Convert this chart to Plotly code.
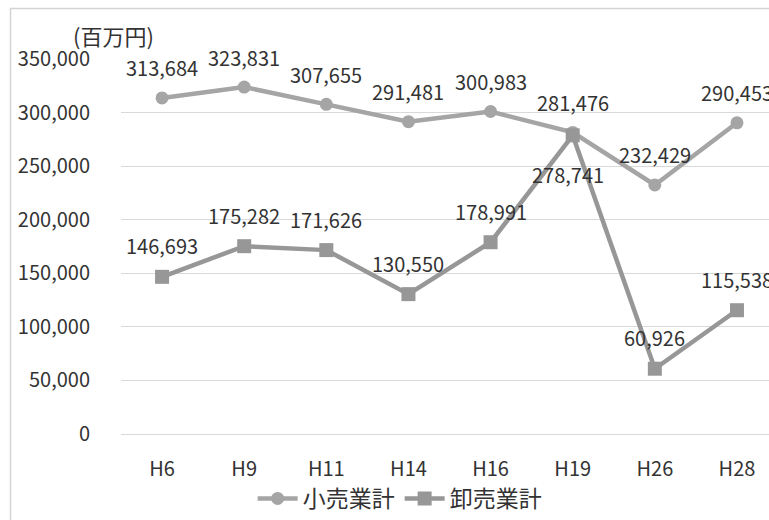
import plotly.graph_objects as go

# 年次（平成）
years = ["H6", "H9", "H11", "H14", "H16", "H19", "H26", "H28"]
# 年間商品販売額（百万円）
retail = [313684, 323831, 307655, 291481, 300983, 281476, 232429, 290453]
wholesale = [146693, 175282, 171626, 130550, 178991, 278741, 60926, 115538]
y_ticks = [0, 50000, 100000, 150000, 200000, 250000, 300000, 350000]

FONT = "Noto Sans CJK JP"
TEXT = "#333333"
RETAIL_C = "#a5a5a5"
WHOLE_C = "#979797"
FS = 20
FS_CJK = 23

fig = go.Figure()
fig.add_trace(go.Scatter(
    x=years, y=retail, name="小売業計", mode="lines+markers",
    line=dict(color=RETAIL_C, width=4.5),
    marker=dict(symbol="circle", size=13, color=RETAIL_C),
))
fig.add_trace(go.Scatter(
    x=years, y=wholesale, name="卸売業計", mode="lines+markers",
    line=dict(color=WHOLE_C, width=4.5),
    marker=dict(symbol="square", size=14, color=WHOLE_C),
))

# data labels: above each point, except the H19 wholesale one placed below
annotations = []
for yr, v in zip(years, retail):
    annotations.append(dict(x=yr, y=v, text=f"{v:,}", showarrow=False,
                            yshift=30, font=dict(size=FS, color=TEXT, family=FONT)))
for yr, v in zip(years, wholesale):
    ys, xs = 31, 0
    if yr == "H19":
        ys, xs = -39, -5
    annotations.append(dict(x=yr, y=v, text=f"{v:,}", showarrow=False,
                            yshift=ys, xshift=xs,
                            font=dict(size=FS, color=TEXT, family=FONT)))
annotations.append(dict(xref="paper", yref="paper", x=-0.011, y=1.063,
                        xanchor="center", yanchor="middle",
                        text="(百万円)", showarrow=False,
                        font=dict(size=22, color=TEXT, family=FONT)))

fig.update_layout(
    width=769, height=520,
    margin=dict(l=121, r=0, t=59, b=83),
    paper_bgcolor="white", plot_bgcolor="white",
    font=dict(family=FONT, size=FS, color=TEXT),
    showlegend=True,
    legend=dict(orientation="h", x=0.43, xanchor="center", y=-0.115, yanchor="top",
                font=dict(size=FS_CJK, color=TEXT, family=FONT), itemwidth=40,
                bgcolor="rgba(0,0,0,0)"),
    annotations=annotations,
    shapes=[dict(type="rect", xref="paper", yref="paper",
                 x0=-0.1705, x1=1.05, y0=-0.3, y1=1.135,
                 line=dict(color="#d4d4d4", width=1.5), layer="below")],
    xaxis=dict(range=[-0.5, 7.39], showgrid=False, zeroline=False, showline=False,
               ticks="outside", ticklen=17, tickcolor="rgba(0,0,0,0)",
               tickfont=dict(size=FS, color=TEXT, family=FONT)),
    yaxis=dict(range=[0, 350000], tickvals=y_ticks,
               ticktext=[f"{v:,}" for v in y_ticks],
               showgrid=True, gridcolor="#d9d9d9", gridwidth=1,
               zeroline=True, zerolinecolor="#d9d9d9", zerolinewidth=1,
               showline=False, ticks="outside", ticklen=26,
               tickcolor="rgba(0,0,0,0)",
               tickfont=dict(size=FS, color=TEXT, family=FONT)),
)

fig.write_html("out.html")
